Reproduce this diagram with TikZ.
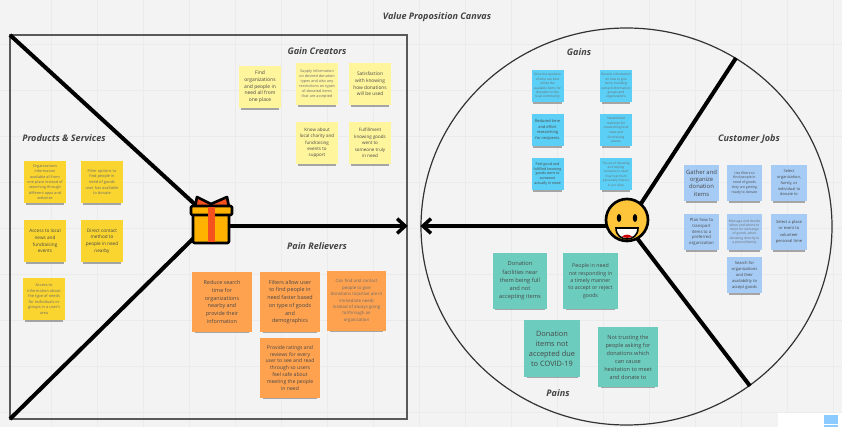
\documentclass[tikz,border=0pt]{standalone}
\usepackage{fontspec}
\setmainfont{Open Sans}
\usetikzlibrary{arrows.meta,shadows,shapes.geometric}
\definecolor{bgcol}{HTML}{F3F3F3}
\definecolor{gridcol}{HTML}{EBEBEB}
\definecolor{yellownote}{HTML}{FAD530}
\definecolor{palenote}{HTML}{FFF59C}
\definecolor{orangenote}{HTML}{FFA24F}
\definecolor{cyannote}{HTML}{5BCFF5}
\definecolor{bluenote}{HTML}{A6CCF5}
\definecolor{tealnote}{HTML}{6CCDBE}
\definecolor{titlecol}{HTML}{444444}
\definecolor{giftbody}{HTML}{FFB300}
\definecolor{giftred}{HTML}{F4511E}
\definecolor{facecol}{HTML}{FFC53A}
\tikzset{
  every picture/.style={line width=0.75pt},
  note/.style={inner sep=0pt,align=center,
    general shadow={fill=black!60,opacity=.55,shadow xshift=0pt,shadow yshift=-3.2pt,shadow scale=.9}},
  sz/.style 2 args={font=\fontsize{\fpeval{#1*1.13}}{#2}\selectfont,text=black!72},
  faint/.style={text=black!58},
  prodnote/.style={note,fill=yellownote,minimum width=31.5pt,minimum height=31.5pt},
  gainnote/.style={note,fill=palenote,minimum width=31.5pt,minimum height=31.5pt},
  painnote/.style={note,fill=orangenote,minimum width=44.5pt,minimum height=45pt},
  cyanbox/.style={note,fill=cyannote,minimum width=24pt,minimum height=24pt},
  jobnote/.style={note,fill=bluenote,minimum width=26.5pt,minimum height=26.5pt},
  tealbox/.style={note,fill=tealnote,minimum width=41pt,minimum height=42pt},
  blockname/.style={font=\fontsize{6.8}{8}\selectfont\bfseries\itshape,text=titlecol,inner sep=0.75pt},
  bigline/.style={line width=3pt,black},
  bigarrow/.style={line width=3pt,black,-{Straight Barb[length=6pt,width=11pt,line width=2.6pt]}}
}

\begin{document}
\begin{tikzpicture}[x=0.75pt,y=0.75pt,yscale=-1,xscale=1]
\useasboundingbox (0,0) rectangle (842,427);
\fill[bgcol] (0,0) rectangle (842,427);
\foreach \gx in {51,97,...,840} \draw[gridcol,line width=0.4pt] (\gx,0) -- (\gx,427);
\foreach \gy in {44,90,...,427} \draw[gridcol,line width=0.4pt] (0,\gy) -- (842,\gy);

% Frames
\node (square) [draw=black!65,line width=1pt,minimum width=297.75pt,minimum height=288pt,inner sep=0pt] at (208.5,227) {};
\node (round) [draw=black!80,line width=0.9pt,ellipse,minimum width=308.25pt,minimum height=297.75pt,inner sep=0pt] at (626.5,226.5) {};

% Text Node
\node (title) [blockname] at (437,17) {Value Proposition Canvas};
\node (gaincreators) [blockname] at (317,51) {Gain Creators};
\node (products) [blockname] at (64,138) {Products \& Services};
\node (painrelievers) [blockname] at (317,246) {Pain Relievers};
\node (gains) [blockname] at (579,52) {Gains};
\node (customerjobs) [blockname] at (749,139) {Customer Jobs};
\node (pains) [blockname] at (558,393) {Pains};

% Gift and smiley holders
\node (gift) [minimum width=30pt,minimum height=36pt,inner sep=0pt] at (212,220) {};
\node (smiley) [circle,minimum size=31.5pt,inner sep=0pt] at (627,225) {};

% Corners
\coordinate (sqtl) at (10,35);
\coordinate (sqbl) at (10,419);
\coordinate (circtop) at (736,58);
\coordinate (circbot) at (750,386);

% Connection
\draw[bigline] (sqtl) -- (gift.center);
\draw[bigline] (sqbl) -- (gift.center);
\draw[bigarrow] (gift.center |- 0,226) -- (square.east |- 0,226);
\draw[bigarrow] (smiley.center |- 0,226) -- (round.west |- 0,226);
\draw[bigline] (smiley.center) -- (circtop);
\draw[bigline] (smiley.center) -- (circbot);

% Gift
\begin{scope}[line width=2pt,line join=round,draw=black]
\filldraw[fill=giftred] (197,197) -- (211,204) -- (227,197) -- (229,207) -- (195,207) -- cycle;
\filldraw[fill=giftbody,rounded corners=1pt] (193,214) rectangle (229,243);
\filldraw[fill=giftbody,rounded corners=1pt] (191,206) rectangle (232,215);
\end{scope}
\fill[giftred] (208,207) rectangle (215,242);

% Smiley
\filldraw[fill=facecol,draw=black,line width=2pt] (627,220) circle [radius=21];
\fill[black] (619,218) ellipse [x radius=2.2,y radius=4];
\fill[black] (635,218) ellipse [x radius=2.2,y radius=4];
\filldraw[fill=white,draw=black,line width=1.2pt] (616,228) -- (638,228) .. controls (638,236) and (632,239) .. (627,239) .. controls (622,239) and (616,236) .. (616,228) -- cycle;
\fill[red!80!black] (622,236.5) .. controls (625,234) and (629,234) .. (632,236.5) .. controls (629,238.3) and (625,238.3) .. (622,236.5) -- cycle;

% Products & Services
\node (prodA) [prodnote,sz={2.5}{4},faint] at (45,182) {Organizations\\information\\available all from\\one place instead of\\searching through\\different apps and\\websites};
\node (prodB) [prodnote,sz={2.6}{4.2},faint] at (102,182) {Filter options to\\find people in\\need of goods\\user has available\\to donate};
\node (prodC) [prodnote,sz={3.1}{5}] at (45,241) {Access to local\\news and\\fundraising\\events};
\node (prodD) [prodnote,sz={3.1}{5}] at (102,241) {Direct contact\\method to\\people in need\\nearby};
\node (prodE) [prodnote,sz={2.6}{4.1},faint] at (44,299) {Access to\\information about\\the type of needs\\for individuals or\\groups in a user's\\area};

% Gain Creators
\node (gainA) [gainnote,sz={3.3}{5}] at (260,87) {Find\\organizations\\and people in\\need all from\\one place};
\node (gainB) [gainnote,sz={2.5}{3.8},faint] at (317,84) {Supply information\\on desired donation\\types and also any\\restrictions on types\\of donated items\\that are accepted};
\node (gainC) [gainnote,sz={3.2}{5}] at (370,84) {Satisfaction\\with knowing\\how donations\\will be used};
\node (gainD) [gainnote,sz={3}{4.8}] at (317,143) {Know about\\local charity and\\fundraising\\events to\\support};
\node (gainE) [gainnote,sz={3}{4.8}] at (370,143) {Fulfillment\\knowing goods\\went to\\someone truly\\in need};

% Pain Relievers
\node (painA) [painnote,sz={3.6}{5.8}] at (222,302) {Reduce search\\time for\\organizations\\nearby and\\provide their\\information};
\node (painB) [painnote,sz={3.6}{5.8}] at (290,302) {Filters allow user\\to find people in\\need faster based\\on type of goods\\and\\demographics};
\node (painC) [painnote,sz={2.9}{4.8},faint] at (356.5,301) {Can find and contact\\people to give\\donations to(active are in\\immediate need)\\instead of always going\\to/through an\\organization};
\node (painD) [painnote,sz={3.4}{5.2}] at (290,368) {Provide ratings and\\reviews for every\\user to see and read\\through so users\\feel safe about\\meeting the people\\in need};

% Gains
\node (cyanA) [cyanbox,sz={2.1}{3.3},faint] at (547.5,86) {Solve the question\\of who can best\\utilize the\\available items for\\donation in the\\local community};
\node (cyanB) [cyanbox,sz={2.1}{3.3},faint] at (616,86) {Receive information\\on how to give\\items including\\contact information,\\groups and\\organizations};
\node (cyanC) [cyanbox,sz={2.6}{4.3}] at (547.5,130) {Reduced time\\and effort\\researching\\for recipients};
\node (cyanD) [cyanbox,sz={2.1}{3.5},faint] at (616,130) {Streamlined\\methods for\\researching local\\news and\\fundraising\\events};
\node (cyanE) [cyanbox,sz={2.4}{3.7}] at (547.5,174) {Feel good and\\fulfilled knowing\\goods went to\\someone\\actually in need};
\node (cyanF) [cyanbox,sz={2}{3.3},faint] at (616,174) {The act of donating\\and helping\\someone in need\\may help them\\personally interact\\in our cities};

% Customer Jobs
\node (jobA) [jobnote,sz={3.9}{5.5}] at (701.5,183) {Gather and\\organize\\donation\\items};
\node (jobB) [jobnote,sz={2.3}{3.7}] at (744.5,183) {Use filters to\\find people in\\need of goods\\they are getting\\ready to donate};
\node (jobC) [jobnote,sz={2.6}{4.3}] at (789,183) {Select\\organization,\\family, or\\individual to\\donate to};
\node (jobD) [jobnote,sz={2.8}{4.4}] at (701.5,232) {Plan how to\\transport\\items to a\\preferred\\organization};
\node (jobE) [jobnote,sz={2.2}{3.1},faint] at (744.5,232) {Message and decide\\when and where to\\meet for exchange\\of goods, when\\donating directly to\\a person/family};
\node (jobF) [jobnote,sz={2.7}{4.7}] at (789,232) {Select a place\\or event to\\volunteer\\personal time};
\node (jobG) [jobnote,sz={2.7}{4.5}] at (744.5,275) {Search for\\organizations\\and their\\availability to\\accept goods};

% Pains
\node (tealA) [tealbox,sz={3.8}{6.2}] at (520,281) {Donation\\facilities near\\them being full\\and not\\accepting items};
\node (tealB) [tealbox,sz={3.5}{5.5}] at (590.5,281) {People in need\\not responding in\\a timely manner\\to accept or reject\\goods};
\node (tealC) [tealbox,sz={4.9}{7.5},minimum width=42.5pt,minimum height=42.5pt] at (552,348.5) {Donation\\items not\\accepted due\\to COVID-19};
\node (tealD) [tealbox,sz={3.7}{6},minimum width=45pt,minimum height=45pt] at (628,357) {Not trusting the\\people asking for\\donations which\\can cause\\hesitation to meet\\and donate to};

% Corner panel
\fill[white] (778,413) rectangle (842,427);
\fill[blue!45!cyan!45] (824,415) rectangle (838,424);
\fill[blue!45!cyan!45] (824,425) rectangle (838,427);

\end{tikzpicture}
\end{document}
